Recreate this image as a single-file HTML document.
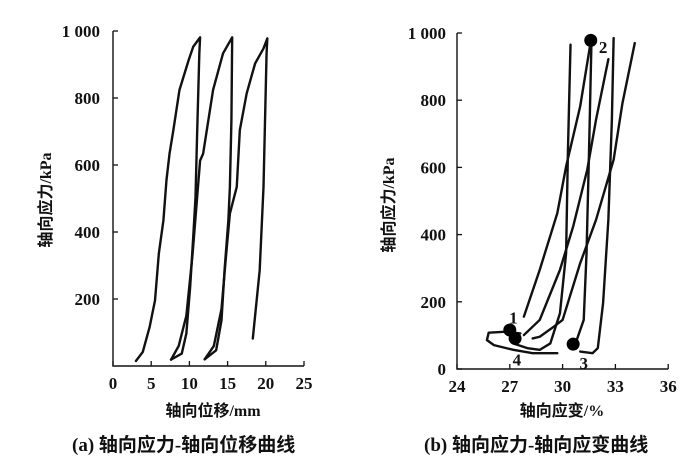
<!DOCTYPE html>
<html><head><meta charset="utf-8"><style>
body{margin:0;background:#fff;}
svg{display:block;}
.tk{font-family:"Liberation Serif","Noto Serif CJK SC",serif;font-size:17px;font-weight:bold;fill:#111;}
.cj{font-family:"Liberation Serif","Noto Sans CJK SC",sans-serif;font-size:16px;font-weight:bold;fill:#111;}
.cap{font-family:"Liberation Serif","Noto Sans CJK SC",sans-serif;font-size:19px;font-weight:bold;fill:#111;}
.c{fill:none;stroke:#111;stroke-width:2.4;stroke-linejoin:round;stroke-linecap:round;}
</style></head><body>
<svg id="fig" width="700" height="466">
<g id="chartA"></g>
<g id="chartB"></g>
<text class="cap" x="72" y="451">(a) 轴向应力-轴向位移曲线</text>
<text class="cap" x="424" y="451">(b) 轴向应力-轴向应变曲线</text>
</svg>
<script>
const aXTicks=[0,5,10,15,20,25];
const aYTicks=[200,400,600,800,1000];
const aYLabels=["200","400","600","800","1 000"];
const aLoop1X=[3.0,3.9,4.8,5.5,6.0,6.6,7.0,7.4,7.9,8.7,9.9,10.5,11.4,11.3,11.0,10.8,10.5,10.1,9.6,9.0,7.6];
const aLoop1Y=[15,42,117,196,336,435,555,634,704,824,913,953,981,933,684,504,385,236,97,37,19];
const aLoop2X=[7.6,8.6,9.6,10.4,11.0,11.4,11.8,13.1,14.4,15.6,15.5,15.3,15.1,14.6,14.2,13.5,12.0];
const aLoop2Y=[19,60,150,330,500,613,634,824,933,981,734,535,435,286,136,47,20];
const aLoop3X=[12.0,13.2,14.2,14.8,15.3,16.2,16.6,17.5,18.6,19.7,20.2,20.1,19.7,19.2,18.3];
const aLoop3Y=[20,60,170,330,455,535,704,814,903,948,978,933,535,286,82];

const bXTicks=[24,27,30,33,36];
const bYTicks=[0,200,400,600,800,1000];
const bYLabels=["0","200","400","600","800","1 000"];
const bSeriesX=[
 [30.45,30.3,30.2,29.85,29.3,28.7,28.0,27.2],
 [27.8,28.7,29.7,30.2,31.0,31.6],
 [31.64,31.5,31.36,31.2,30.8,30.6],
 [32.6,31.9,31.4,30.6,29.85,28.7,27.8],
 [32.9,32.8,32.6,32.3,32.0,31.7,31.0],
 [34.1,33.4,32.9,31.9,31.0,30.0,29.5,28.7,28.3],
 [27.6,26.8,25.8,25.7,26.1,27.2,28.3,29.7]
];
const bSeriesY=[
 [965,643,345,166,76,57,62,76],
 [156,295,464,603,782,975],
 [975,643,345,146,86,74],
 [922,742,593,424,295,146,101],
 [985,742,444,196,62,47,52],
 [970,791,623,444,315,146,126,96,91],
 [106,111,108,86,71,57,47,47]
];
const bDotX=[27.0,31.6,30.6,27.3];
const bDotY=[116,978,74,91];
const bDotLabels=["1","2","3","4"];
const bLabelX=[27.2,32.3,31.2,27.4];
const bLabelY=[150,955,15,25];

const NS="http://www.w3.org/2000/svg";
function mk(p,t,a){const e=document.createElementNS(NS,t);for(const k in a)e.setAttribute(k,a[k]);p.appendChild(e);return e;}

const A=document.getElementById('chartA');
const ax=v=>113+v*7.64, ay=v=>366-v*0.335;
let e;
e=mk(A,'path',{d:`M${ax(0)} ${ay(1000)} V${ay(0)} H${ax(25)}`,fill:'none',stroke:'#111','stroke-width':1.4});

aXTicks.forEach(t=>{
 e=mk(A,'line',{x1:ax(t),x2:ax(t),y1:ay(0),y2:ay(0)-5,stroke:'#111','stroke-width':1.3});
 
 e=mk(A,'text',{x:ax(t),y:389,'text-anchor':'middle',class:'tk'});e.textContent=t;
 
});
aYTicks.forEach((t,i)=>{
 e=mk(A,'line',{x1:ax(0),x2:ax(0)+5,y1:ay(t),y2:ay(t),stroke:'#111','stroke-width':1.3});
 
 e=mk(A,'text',{x:100,y:ay(t)+6,'text-anchor':'end',class:'tk'});e.textContent=aYLabels[i];
 
});
[[aLoop1X,aLoop1Y],[aLoop2X,aLoop2Y],[aLoop3X,aLoop3Y]].forEach(([X,Y],k)=>{
 e=mk(A,'polyline',{points:X.map((v,i)=>ax(v)+','+ay(Y[i])).join(' '),class:'c'});
 
});
e=mk(A,'text',{x:213,y:416,'text-anchor':'middle',class:'cj'});e.textContent='轴向位移/mm';

e=mk(A,'text',{x:0,y:0,'text-anchor':'middle',class:'cj',transform:'translate(51,200) rotate(-90)'});e.textContent='轴向应力/kPa';


const B=document.getElementById('chartB');
const bx=v=>457+(v-24)*17.6, by=v=>369-v*0.336;
e=mk(B,'path',{d:`M${bx(24)} ${by(1000)} V${by(0)} H${bx(36)}`,fill:'none',stroke:'#111','stroke-width':1.4});

bXTicks.forEach(t=>{
 e=mk(B,'line',{x1:bx(t),x2:bx(t),y1:by(0),y2:by(0)-5,stroke:'#111','stroke-width':1.3});
 
 e=mk(B,'text',{x:bx(t),y:392,'text-anchor':'middle',class:'tk'});e.textContent=t;
 
});
bYTicks.forEach((t,i)=>{
 e=mk(B,'line',{x1:bx(24),x2:bx(24)+5,y1:by(t),y2:by(t),stroke:'#111','stroke-width':1.3});
 
 e=mk(B,'text',{x:446,y:by(t)+6,'text-anchor':'end',class:'tk'});e.textContent=bYLabels[i];
 
});
bSeriesX.forEach((X,k)=>{
 const Y=bSeriesY[k];
 e=mk(B,'polyline',{points:X.map((v,i)=>bx(v)+','+by(Y[i])).join(' '),class:'c','stroke-width':2});
 
});
bDotX.forEach((v,i)=>{
 e=mk(B,'circle',{cx:bx(v),cy:by(bDotY[i]),r:6.5,fill:'#000'});
 
 e=mk(B,'text',{x:bx(bLabelX[i]),y:by(bLabelY[i])+5,'text-anchor':'middle',class:'tk'});e.textContent=bDotLabels[i];
 
});
e=mk(B,'text',{x:562,y:416,'text-anchor':'middle',class:'cj'});e.textContent='轴向应变/%';

e=mk(B,'text',{x:0,y:0,'text-anchor':'middle',class:'cj',transform:'translate(394,205) rotate(-90)'});e.textContent='轴向应力/kPa';

</script>
</body></html>
